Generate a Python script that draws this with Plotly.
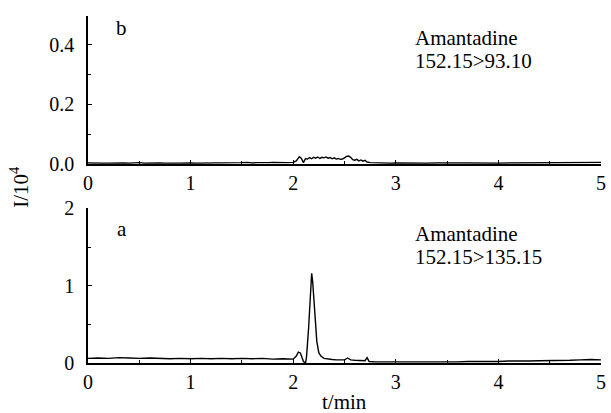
import plotly.graph_objects as go

# Panel b: Amantadine 152.15>93.10 (I/10^4)
b_time = [0.00, 0.05, 0.10, 0.15, 0.20, 0.25, 0.30, 0.35, 0.40, 0.45, 0.50, 0.55, 0.60, 0.65, 0.70,
          0.75, 0.80, 0.85, 0.90, 0.95, 1.00, 1.05, 1.10, 1.15, 1.20, 1.25, 1.30, 1.35, 1.40, 1.45,
          1.50, 1.55, 1.60, 1.65, 1.70, 1.75, 1.80, 1.85, 1.90, 1.95, 2.00, 2.03, 2.06, 2.08, 2.10,
          2.12, 2.14, 2.16, 2.18, 2.20, 2.22, 2.24, 2.26, 2.28, 2.30, 2.32, 2.34, 2.36, 2.38, 2.40,
          2.42, 2.44, 2.46, 2.48, 2.50, 2.52, 2.54, 2.56, 2.58, 2.60, 2.62, 2.64, 2.66, 2.68, 2.70,
          2.72, 2.75, 2.80, 2.85, 2.90, 2.95, 3.00, 3.10, 3.20, 3.30, 3.40, 3.50, 3.60, 3.70, 3.80,
          3.90, 4.00, 4.10, 4.20, 4.30, 4.40, 4.50, 4.60, 4.70, 4.80, 4.90, 5.00]
b_val = [0.003, 0.002, 0.003, 0.002, 0.002, 0.003, 0.002, 0.003, 0.002, 0.003, 0.004, 0.002, 0.003, 0.002, 0.003,
         0.002, 0.003, 0.002, 0.002, 0.003, 0.003, 0.002, 0.002, 0.003, 0.002, 0.003, 0.003, 0.004, 0.003, 0.003,
         0.004, 0.005, 0.003, 0.004, 0.003, 0.004, 0.005, 0.004, 0.005, 0.004, 0.005, 0.010, 0.024, 0.018, 0.004,
         0.018, 0.016, 0.021, 0.017, 0.022, 0.019, 0.023, 0.018, 0.022, 0.020, 0.023, 0.019, 0.021, 0.017, 0.020,
         0.016, 0.018, 0.015, 0.016, 0.020, 0.025, 0.026, 0.022, 0.014, 0.012, 0.015, 0.010, 0.013, 0.009, 0.012,
         0.006, 0.004, 0.003, 0.002, 0.003, 0.002, 0.003, 0.002, 0.003, 0.002, 0.003, 0.002, 0.003, 0.003, 0.002,
         0.003, 0.002, 0.003, 0.003, 0.004, 0.003, 0.004, 0.003, 0.004, 0.004, 0.005, 0.005]

# Panel a: Amantadine 152.15>135.15 (I/10^4)
a_time = [0.00, 0.10, 0.20, 0.30, 0.40, 0.50, 0.60, 0.70, 0.80, 0.90, 1.00, 1.10, 1.20, 1.30, 1.40,
          1.50, 1.60, 1.70, 1.80, 1.90, 1.95, 2.00, 2.03, 2.05, 2.07, 2.09, 2.10, 2.12, 2.13, 2.15,
          2.17, 2.18, 2.19, 2.21, 2.23, 2.25, 2.27, 2.30, 2.34, 2.38, 2.42, 2.47, 2.50, 2.53, 2.56,
          2.60, 2.65, 2.70, 2.72, 2.74, 2.80, 2.90, 3.00, 3.10, 3.20, 3.30, 3.40, 3.50, 3.60, 3.70,
          3.80, 3.90, 4.00, 4.10, 4.20, 4.30, 4.40, 4.50, 4.60, 4.70, 4.80, 4.90, 5.00]
a_val = [0.06, 0.065, 0.06, 0.07, 0.065, 0.06, 0.065, 0.06, 0.055, 0.06, 0.055, 0.06, 0.055, 0.06, 0.055,
         0.06, 0.055, 0.06, 0.05, 0.055, 0.055, 0.05, 0.09, 0.14, 0.13, 0.06, 0.02, 0.0, 0.08, 0.45,
         1.0, 1.16, 1.05, 0.60, 0.28, 0.13, 0.09, 0.06, 0.05, 0.045, 0.04, 0.04, 0.04, 0.065, 0.04,
         0.035, 0.03, 0.03, 0.07, 0.02, 0.015, 0.015, 0.015, 0.01, 0.015, 0.012, 0.015, 0.012, 0.015, 0.02,
         0.018, 0.02, 0.02, 0.025, 0.022, 0.025, 0.03, 0.03, 0.035, 0.035, 0.04, 0.045, 0.04]

FONT = "Liberation Serif"

fig = go.Figure()
fig.add_trace(go.Scatter(x=b_time, y=b_val, mode="lines", line=dict(color="black", width=1.4),
                         xaxis="x2", yaxis="y2", showlegend=False))
fig.add_trace(go.Scatter(x=a_time, y=a_val, mode="lines", line=dict(color="black", width=1.4),
                         xaxis="x", yaxis="y", showlegend=False))


def axis(**kw):
    d = dict(showline=True, linecolor="black", linewidth=1.6, showgrid=False, zeroline=False,
             ticks="inside", ticklen=4, tickwidth=1.2, tickcolor="black",
             tickfont=dict(family=FONT, size=20, color="black"), ticklabeloverflow="allow")
    d.update(kw)
    return d


minor_x = dict(dtick=0.5, ticks="inside", ticklen=3, tickcolor="black")

fig.update_layout(
    width=611, height=413,
    font=dict(family=FONT, size=20, color="black"),
    margin=dict(l=88, r=5, t=13, b=50),
    paper_bgcolor="white", plot_bgcolor="white",
    xaxis=axis(domain=[0, 1], range=[0, 5], dtick=1, anchor="y", minor=minor_x),
    yaxis=axis(domain=[0, 0.4457], range=[0, 2], dtick=1, anchor="x",
               minor=dict(dtick=0.5, ticks="inside", ticklen=3, tickcolor="black"),
               ticklabelstandoff=8),
    xaxis2=axis(domain=[0, 1], range=[0, 5], dtick=1, anchor="y2", minor=minor_x),
    yaxis2=axis(domain=[0.574, 1], range=[0, 0.497], dtick=0.2, tickformat=".1f", anchor="x2",
                minor=dict(dtick=0.1, ticks="inside", ticklen=3, tickcolor="black"),
                ticklabelstandoff=8),
)

ann_font = dict(family=FONT, size=21, color="black")
anns = [
    dict(x=0.33, y=0.455, xref="x2", yref="y2", text="b", showarrow=False, font=ann_font),
    dict(x=3.17, y=0.423, xref="x2", yref="y2", text="Amantadine", showarrow=False, xanchor="left", font=ann_font),
    dict(x=3.17, y=0.347, xref="x2", yref="y2", text="152.15>93.10", showarrow=False, xanchor="left", font=ann_font),
    dict(x=0.33, y=1.73, xref="x", yref="y", text="a", showarrow=False, font=ann_font),
    dict(x=3.17, y=1.667, xref="x", yref="y", text="Amantadine", showarrow=False, xanchor="left", font=ann_font),
    dict(x=3.17, y=1.372, xref="x", yref="y", text="152.15>135.15", showarrow=False, xanchor="left", font=ann_font),
    dict(x=(347 - 88) / 518, y=(363 - 388) / 350, xref="paper", yref="paper", text="t/min",
         yanchor="top", showarrow=False, font=ann_font),
    dict(x=(3 - 88) / 518, y=(363 - 185) / 350, xref="paper", yref="paper", text="I/10<sup>4</sup>",
         textangle=-90, showarrow=False, font=ann_font),
]
fig.update_layout(annotations=anns)

fig.write_html("out.html", config={"displayModeBar": False},
               post_script="document.body.style.margin='0';document.body.style.overflow='hidden';")
